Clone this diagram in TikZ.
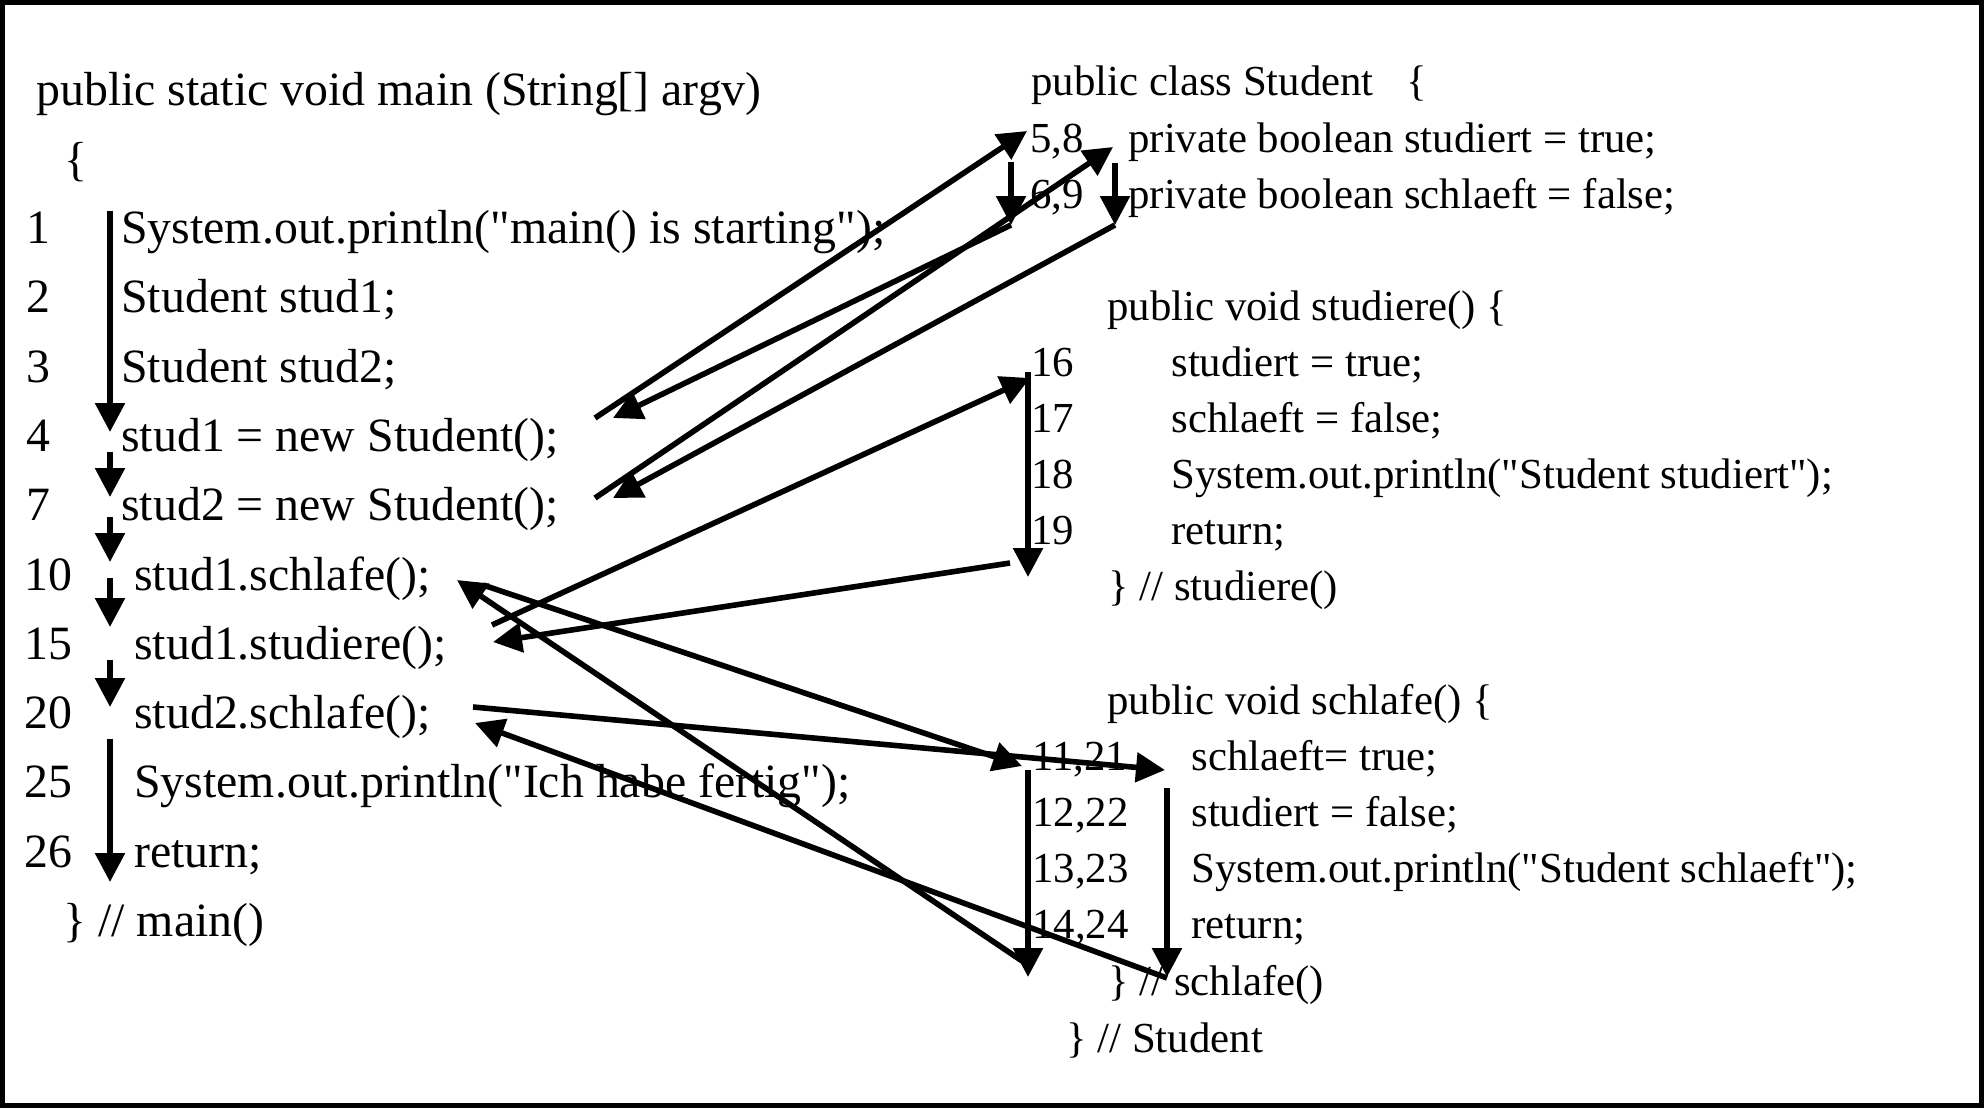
\documentclass[tikz,border=0pt]{standalone}
\usepackage{fontspec}
\setmainfont{Liberation Serif}[Ligatures=TeXOff]
\usetikzlibrary{arrows.meta}
\begin{document}
\begin{tikzpicture}[x=0.5pt,y=-0.5pt,
  big/.style={anchor=base west,inner sep=0pt,yshift=-1.5pt,font=\fontsize{23.9}{28}\selectfont},
  small/.style={anchor=base west,inner sep=0pt,yshift=-2pt,font=\fontsize{21.4}{25}\selectfont},
  flow/.style={line width=2.8pt,-{Triangle[length=14.5pt,width=14.5pt]}},
]
\useasboundingbox (0,0) rectangle (1984,1108);
\draw[line width=2.6pt] (2.5,2.5) rectangle (1981.5,1105.5);

% ---------- main() ----------
\node[big] (mhead) at (36,102) {public static void main (String[] argv)};
\node[big] (mopen) at (64,172) {\{};
\node[big] (n1)  at (26,240) {1};
\node[big] (n2)  at (26,309) {2};
\node[big] (n3)  at (26,379) {3};
\node[big] (n4)  at (26,448) {4};
\node[big] (n7)  at (26,517) {7};
\node[big] (n10) at (24,587) {10};
\node[big] (n15) at (24,656) {15};
\node[big] (n20) at (24,725) {20};
\node[big] (n25) at (24,794) {25};
\node[big] (n26) at (24,864) {26};
\node[big] (c1)  at (121,240) {System.out.println("main() is starting");};
\node[big] (c2)  at (121,309) {Student stud1;};
\node[big] (c3)  at (121,379) {Student stud2;};
\node[big] (c4)  at (121,448) {stud1 = new Student();};
\node[big] (c7)  at (121,517) {stud2 = new Student();};
\node[big] (c10) at (134,587) {stud1.schlafe();};
\node[big] (c15) at (134,656) {stud1.studiere();};
\node[big] (c20) at (134,725) {stud2.schlafe();};
\node[big] (c25) at (134,794) {System.out.println("Ich habe fertig");};
\node[big] (c26) at (134,864) {return;};
\node[big] (mclose) at (63,933) {\} // main()};

% ---------- class Student ----------
\node[small] (shead) at (1031,91) {public class Student};
\node[small] (sopen) at (1406,91) {\{};
\node[small] (a58) at (1030,148) {5,8};
\node[small] (a69) at (1030,204) {6,9};
\node[small] (f1) at (1128,148) {private boolean studiert = true;};
\node[small] (f2) at (1128,204) {private boolean schlaeft = false;};

\node[small] (shd) at (1107,316) {public void studiere() \{};
\node[small] (s16) at (1031,372) {16};
\node[small] (s17) at (1031,428) {17};
\node[small] (s18) at (1031,484) {18};
\node[small] (s19) at (1031,540) {19};
\node[small] (t16) at (1171,372) {studiert = true;};
\node[small] (t17) at (1171,428) {schlaeft = false;};
\node[small] (t18) at (1171,484) {System.out.println("Student studiert");};
\node[small] (t19) at (1171,540) {return;};
\node[small] (sclose) at (1108,596) {\} // studiere()};

\node[small] (khd) at (1107,710) {public void schlafe() \{};
\node[small] (k11) at (1032,766) {11,21};
\node[small] (k12) at (1032,822) {12,22};
\node[small] (k13) at (1032,878) {13,23};
\node[small] (k14) at (1032,934) {14,24};
\node[small] (u11) at (1191,766) {schlaeft= true;};
\node[small] (u12) at (1191,822) {studiert = false;};
\node[small] (u13) at (1191,878) {System.out.println("Student schlaeft");};
\node[small] (u14) at (1191,934) {return;};
\node[small] (kclose) at (1108,991) {\} // schlafe()};
\node[small] (cclose) at (1066,1048) {\} // Student};

% ---------- connector end points ----------
% control flow inside main()
\coordinate (m1a) at (110,211); \coordinate (m1b) at (110,432);
\coordinate (m2a) at (110,452); \coordinate (m2b) at (110,497);
\coordinate (m3a) at (110,517); \coordinate (m3b) at (110,562);
\coordinate (m4a) at (110,578); \coordinate (m4b) at (110,627);
\coordinate (m5a) at (110,660); \coordinate (m5b) at (110,707);
\coordinate (m6a) at (110,739); \coordinate (m6b) at (110,882);
% constructor calls
\coordinate (new1) at (595,418);  \coordinate (back1) at (613,418);
\coordinate (new2) at (595,498);  \coordinate (back2) at (613,498);
\coordinate (fa1) at (1027,131);  \coordinate (fa2) at (1011,162);
\coordinate (fa3) at (1011,225);
\coordinate (fb1) at (1113,147);  \coordinate (fb2) at (1115,163);
\coordinate (fb3) at (1115,225);
% studiere()
\coordinate (st0) at (492,625);   \coordinate (stb) at (493,642);
\coordinate (sd1) at (1030,378);  \coordinate (sd2) at (1028,372);
\coordinate (sd3) at (1028,577);  \coordinate (sd4) at (1010,563);
% schlafe(), first and second call
\coordinate (sa0) at (483,585);   \coordinate (sab) at (457,580);
\coordinate (sb0) at (473,707);   \coordinate (sbb) at (475,723);
\coordinate (ka1) at (1022,766);  \coordinate (ka2) at (1028,770);
\coordinate (ka3) at (1028,977);  \coordinate (ka4) at (1028,965);
\coordinate (kb1) at (1165,770);  \coordinate (kb2) at (1167,788);
\coordinate (kb3) at (1167,977);  \coordinate (kb4) at (1167,978);

% ---------- connectors ----------
\draw[flow] (m1a) -- (m1b);
\draw[flow] (m2a) -- (m2b);
\draw[flow] (m3a) -- (m3b);
\draw[flow] (m4a) -- (m4b);
\draw[flow] (m5a) -- (m5b);
\draw[flow] (m6a) -- (m6b);

\draw[flow] (new1) -- (fa1);
\draw[flow] (fa2) -- (fa3);
\draw[flow] (fa3) -- (back1);
\draw[flow] (new2) -- (fb1);
\draw[flow] (fb2) -- (fb3);
\draw[flow] (fb3) -- (back2);

\draw[flow] (st0) -- (sd1);
\draw[flow] (sd2) -- (sd3);
\draw[flow] (sd4) -- (stb);

\draw[flow] (sa0) -- (ka1);
\draw[flow] (ka2) -- (ka3);
\draw[flow] (ka4) -- (sab);
\draw[flow] (sb0) -- (kb1);
\draw[flow] (kb2) -- (kb3);
\draw[flow] (kb4) -- (sbb);
\end{tikzpicture}
\end{document}
